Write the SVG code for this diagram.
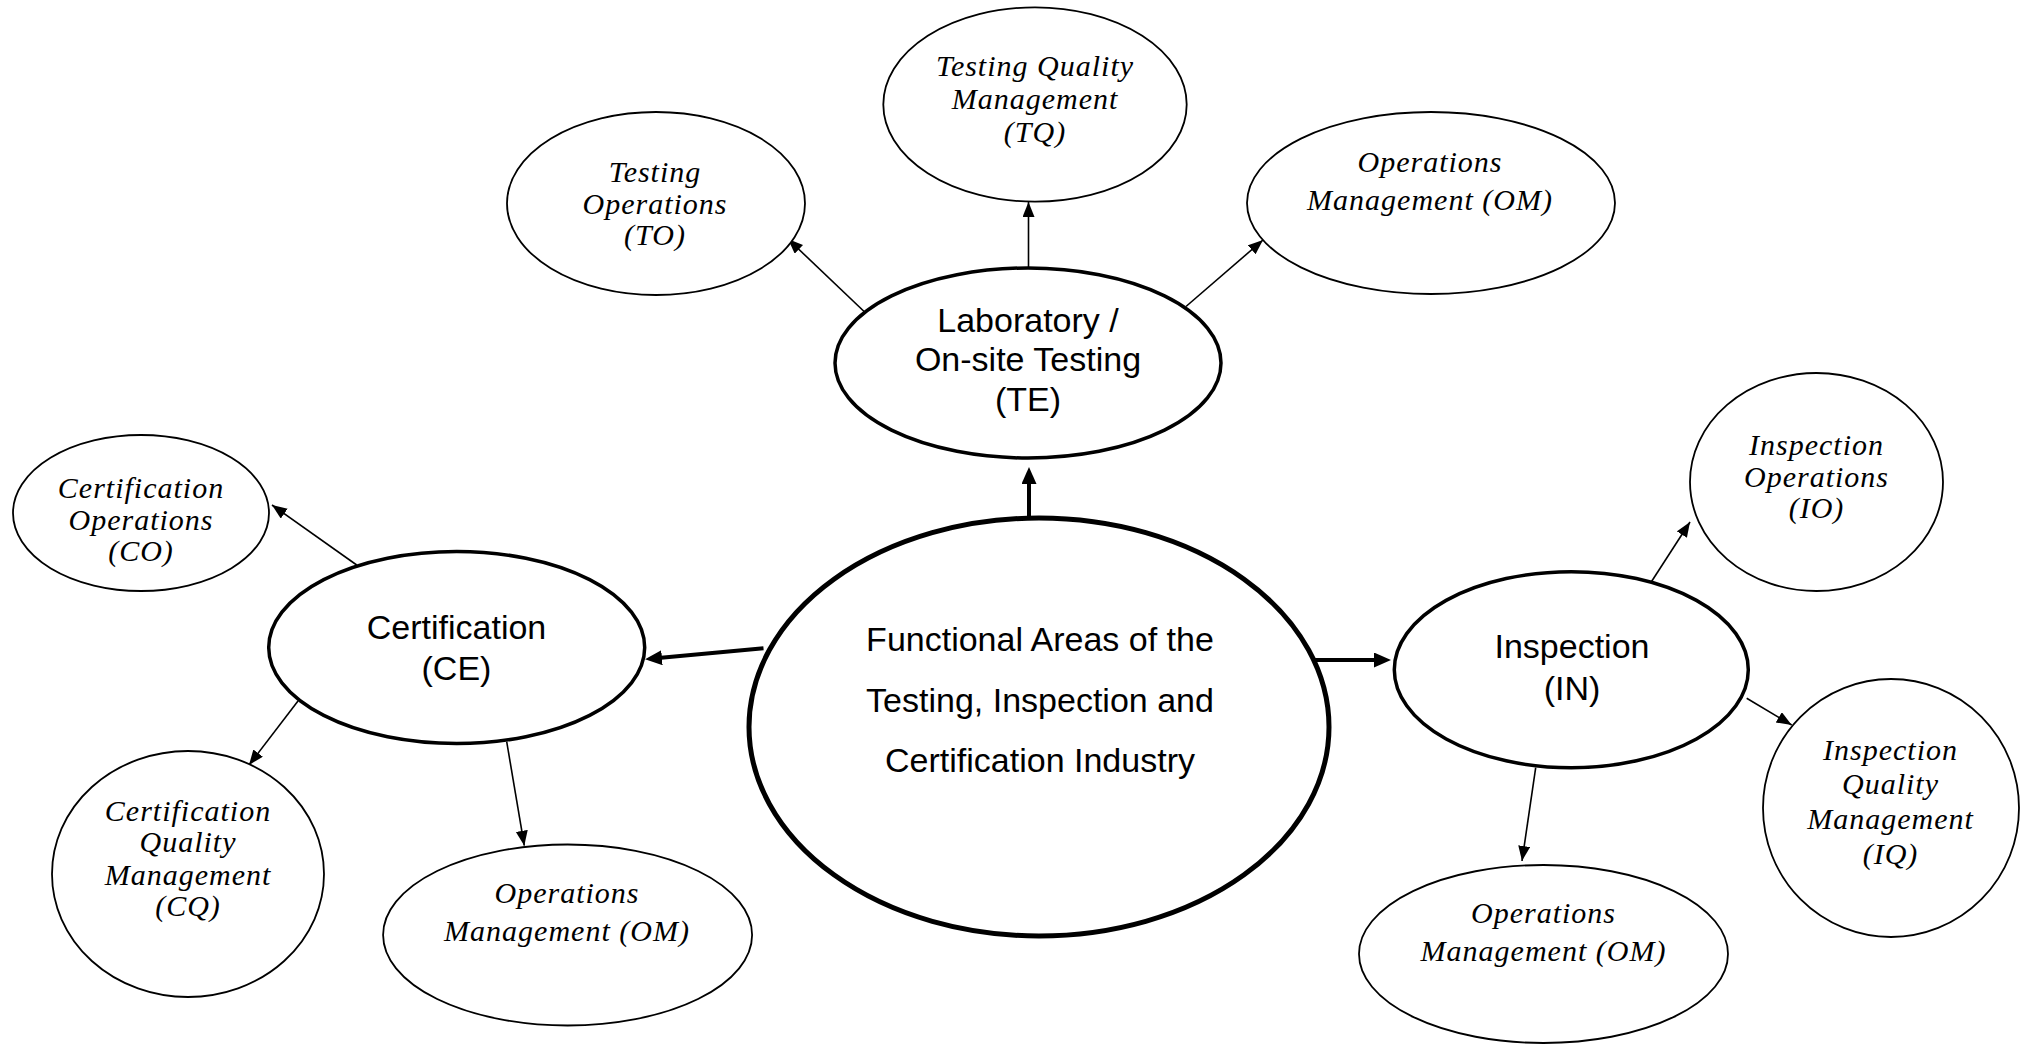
<svg xmlns="http://www.w3.org/2000/svg" width="2029" height="1047" viewBox="0 0 2029 1047">
<style>
.main{fill:#fff;stroke:#000;stroke-width:3.5}
.core{fill:#fff;stroke:#000;stroke-width:5}
.sub{fill:#fff;stroke:#000;stroke-width:1.8}
.st{font-family:"Liberation Sans",Arial,sans-serif;font-size:34px;text-anchor:middle;fill:#000}
.it{font-family:"Liberation Serif","Times New Roman",serif;font-style:italic;font-size:30px;letter-spacing:1px;text-anchor:middle;fill:#000}
.thin{stroke:#000;stroke-width:1.6;fill:none;marker-end:url(#ah)}
.thick{stroke:#000;stroke-width:4;fill:none;marker-end:url(#ahT)}
</style>
<defs>
<marker id="ah" markerUnits="userSpaceOnUse" markerWidth="16" markerHeight="13" refX="15" refY="6" orient="auto"><path d="M0,0 L15,6 L0,12 z" fill="#000"/></marker>
<marker id="ahT" markerUnits="userSpaceOnUse" markerWidth="18" markerHeight="16" refX="9" refY="7.5" orient="auto"><path d="M0,0 L17,7.5 L0,15 z" fill="#000"/></marker>
</defs>
<rect width="2029" height="1047" fill="#fff"/>

<g id="connectors">
<line class="thick" x1="1029" y1="518" x2="1029" y2="475"/>
<line class="thick" x1="763.5" y1="648.3" x2="653" y2="658.6"/>
<line class="thick" x1="1315" y1="660" x2="1383" y2="660"/>
<line class="thin" x1="872" y1="319" x2="788" y2="239"/>
<line class="thin" x1="1028.5" y1="268" x2="1028.5" y2="202"/>
<line class="thin" x1="1186" y1="306.5" x2="1263" y2="240"/>
<line class="thin" x1="356.7" y1="565" x2="272" y2="505"/>
<line class="thin" x1="298" y1="701" x2="249" y2="765"/>
<line class="thin" x1="506.7" y1="741.7" x2="524.3" y2="845.7"/>
<line class="thin" x1="1648" y1="587" x2="1690" y2="522"/>
<line class="thin" x1="1746.7" y1="698.3" x2="1791.7" y2="725"/>
<line class="thin" x1="1535.7" y1="767.7" x2="1522" y2="861"/>
</g>

<g id="functional">
<ellipse class="core" cx="1039" cy="727" rx="290" ry="209"/>
<text class="st" x="1040" y="651">Functional Areas of the</text>
<text class="st" x="1040" y="711.5">Testing, Inspection and</text>
<text class="st" x="1040" y="772">Certification Industry</text>
</g>

<g id="TE">
<ellipse class="main" cx="1028" cy="363" rx="193" ry="95"/>
<text class="st" x="1028" y="332">Laboratory /</text>
<text class="st" x="1028" y="371">On-site Testing</text>
<text class="st" x="1028" y="411">(TE)</text>
</g>

<g id="CE">
<ellipse class="main" cx="456.7" cy="647.5" rx="188" ry="96"/>
<text class="st" x="456.5" y="639">Certification</text>
<text class="st" x="456.5" y="680">(CE)</text>
</g>

<g id="IN">
<ellipse class="main" cx="1571.3" cy="669.7" rx="177" ry="98"/>
<text class="st" x="1572" y="658">Inspection</text>
<text class="st" x="1572" y="700">(IN)</text>
</g>

<g id="TO">
<ellipse class="sub" cx="656" cy="203.5" rx="149" ry="91.5"/>
<text class="it" x="655" y="182">Testing</text>
<text class="it" x="655" y="213.5">Operations</text>
<text class="it" x="655" y="245">(TO)</text>
</g>

<g id="TQ">
<ellipse class="sub" cx="1035" cy="104.5" rx="151.7" ry="97.2"/>
<text class="it" x="1035" y="76">Testing Quality</text>
<text class="it" x="1035" y="109">Management</text>
<text class="it" x="1035" y="142">(TQ)</text>
</g>

<g id="OM-TE">
<ellipse class="sub" cx="1431" cy="203" rx="184" ry="91"/>
<text class="it" x="1430" y="172">Operations</text>
<text class="it" x="1430" y="210">Management (OM)</text>
</g>

<g id="CO">
<ellipse class="sub" cx="141" cy="513" rx="128" ry="78"/>
<text class="it" x="141" y="498">Certification</text>
<text class="it" x="141" y="530">Operations</text>
<text class="it" x="141" y="561">(CO)</text>
</g>

<g id="CQ">
<ellipse class="sub" cx="188" cy="874" rx="136" ry="123"/>
<text class="it" x="188" y="821">Certification</text>
<text class="it" x="188" y="852">Quality</text>
<text class="it" x="188" y="885">Management</text>
<text class="it" x="188" y="916">(CQ)</text>
</g>

<g id="OM-CE">
<ellipse class="sub" cx="567.6" cy="935" rx="184.5" ry="90.5"/>
<text class="it" x="567" y="903">Operations</text>
<text class="it" x="567" y="941">Management (OM)</text>
</g>

<g id="IO">
<ellipse class="sub" cx="1816.5" cy="482" rx="126.5" ry="109"/>
<text class="it" x="1816.5" y="455">Inspection</text>
<text class="it" x="1816.5" y="487">Operations</text>
<text class="it" x="1816.5" y="518">(IO)</text>
</g>

<g id="IQ">
<ellipse class="sub" cx="1891" cy="808" rx="128" ry="129"/>
<text class="it" x="1890.5" y="760">Inspection</text>
<text class="it" x="1890.5" y="794">Quality</text>
<text class="it" x="1890.5" y="829">Management</text>
<text class="it" x="1890.5" y="864">(IQ)</text>
</g>

<g id="OM-IN">
<ellipse class="sub" cx="1543.5" cy="954" rx="184.5" ry="89"/>
<text class="it" x="1543.5" y="923">Operations</text>
<text class="it" x="1543.5" y="961">Management (OM)</text>
</g>
</svg>
